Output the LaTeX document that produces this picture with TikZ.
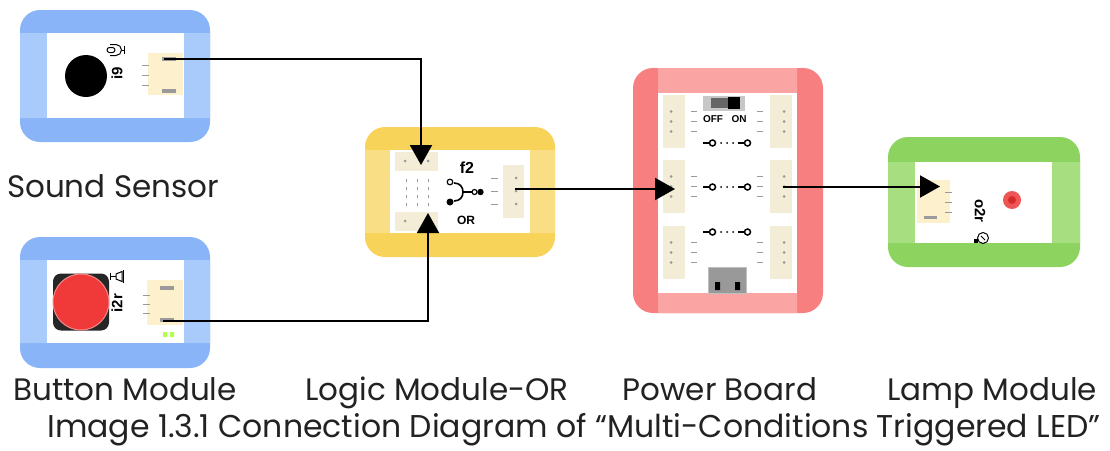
\documentclass[tikz,border=0pt]{standalone}
\usepackage{fontspec}
\setmainfont{Poppins}
\newfontfamily\tagfont{Liberation Sans}
\usepackage{xcolor}
\usepackage{tikz}
\usetikzlibrary{arrows.meta}

\definecolor{bluedark}{HTML}{8AB4F8}
\definecolor{bluelight}{HTML}{A9CBFB}
\definecolor{yellowdark}{HTML}{F8D35A}
\definecolor{yellowlight}{HTML}{FADE86}
\definecolor{reddark}{HTML}{F77F7F}
\definecolor{redlight}{HTML}{FBA4A4}
\definecolor{greendark}{HTML}{8DD35F}
\definecolor{greenlight}{HTML}{A6DE80}
\definecolor{cream}{HTML}{FCF0CD}
\definecolor{sockcream}{HTML}{F3ECD6}
\definecolor{pingray}{HTML}{9A9A9A}
\definecolor{buttonred}{HTML}{F03A3A}
\definecolor{ledred}{HTML}{EE5555}
\definecolor{textgray}{HTML}{222222}

\tikzstyle{board} = [rectangle, rounded corners=20pt, inner sep=0pt]
\tikzstyle{face} = [rectangle, fill=white, inner sep=0pt]
\tikzstyle{port} = [rectangle, fill=cream, inner sep=0pt]
\tikzstyle{sockbox} = [rectangle, fill=sockcream, inner sep=0pt]
\tikzstyle{lead} = [pingray, line width=1pt]
\tikzstyle{icon} = [black, line width=1.2pt]
\tikzstyle{tag} = [inner sep=0pt, font=\tagfont\bfseries\fontsize{15}{15}\selectfont]
\tikzstyle{small tag} = [inner sep=0pt, font=\tagfont\bfseries\fontsize{10}{10}\selectfont]
\tikzstyle{title} = [inner sep=0pt, anchor=base, text=textgray, font=\fontsize{31}{36}\selectfont]
\tikzstyle{wire} = [line width=2pt, -{Triangle[length=20pt, width=22pt]}]

\begin{document}
\begin{tikzpicture}[x=1pt, y=-1pt]
    \useasboundingbox (0,0) rectangle (1110,450);

    % sound sensor
    \node (snd) [board, fill=bluedark, minimum width=190pt, minimum height=132pt] at (115,76) {};
    \fill[bluelight] (20,33) rectangle (47,118) (184,33) rectangle (210,118);
    \node (snd-face) [face, minimum width=137pt, minimum height=85pt] at (115.5,75.5) {};
    \fill (86,76) circle (21pt);
    \node (snd-tag) [tag, rotate=90] at (117,73) {i9};
    \draw[icon, line width=1pt, rounded corners=2.5pt] (107,47.5) rectangle (115,52.5);
    \draw[icon, line width=1pt] (110,44.5) -- (116,44.5) arc (90:-90:5.5pt) -- (110,55.5);
    \draw[icon, line width=1pt] (121.5,50) -- (124,50) (124,46) -- (124,54);
    \node (snd-port) [port, minimum width=35pt, minimum height=42pt] at (165,74) {};
    \foreach \y in {65,75,85} \draw[lead] (142,\y) -- (149,\y);
    \fill[pingray] (162,57) rectangle (176,61);
    \fill[pingray] (162,89) rectangle (176,93);
    \coordinate (snd-pin) at (164,59);

    % button module
    \node (btn) [board, fill=bluedark, minimum width=190pt, minimum height=131pt] at (115,302.5) {};
    \fill[bluelight] (20,260) rectangle (47,343) (184,260) rectangle (210,343);
    \node (btn-face) [face, minimum width=137pt, minimum height=83pt] at (115.5,301.5) {};
    \node (btn-cap) [rectangle, fill=black!85, rounded corners=8pt, minimum width=56pt, minimum height=57pt, inner sep=0pt] at (81,302) {};
    \fill[buttonred, draw=buttonred!60!white, line width=1pt] (81,302) circle (28pt);
    \node (btn-tag) [tag, rotate=90] at (117,303) {i2r};
    \draw[icon, line width=1pt] (110,273) -- (110,280) (110,276.5) -- (116,276.5);
    \draw[icon, line width=1pt] (116,274) -- (122,271.5) -- (122,281.5) -- (116,279) -- cycle;
    \draw[icon, line width=1pt] (123.5,270) -- (123.5,283);
    \node (btn-port) [port, minimum width=36pt, minimum height=45pt] at (165,302.5) {};
    \foreach \y in {295,304,313} \draw[lead] (143,\y) -- (150,\y);
    \fill[pingray] (160,286) rectangle (174,290);
    \fill[pingray] (160,318) rectangle (174,322);
    \fill[green!45!yellow!70] (163,332) rectangle (167,337) (170,332) rectangle (174,337);
    \coordinate (btn-pin) at (163,321);

    % logic module OR
    \node (or) [board, fill=yellowdark, minimum width=190pt, minimum height=130pt] at (460,192) {};
    \fill[yellowlight] (365,150) rectangle (390,233) (530,150) rectangle (555,233);
    \node (or-face) [face, minimum width=140pt, minimum height=83pt] at (460,191.5) {};
    \node (or-top) [sockbox, minimum width=43pt, minimum height=19pt] at (416,161) {};
    \node (or-bot) [sockbox, minimum width=43pt, minimum height=19pt] at (416,221) {};
    \node (or-out) [sockbox, minimum width=21pt, minimum height=53pt] at (513,191) {};
    \foreach \x in {405,428} {
        \fill[pingray] (\x,161) circle (1.5pt);
        \fill[pingray] (\x,221) circle (1.5pt);
    }
    \foreach \x in {406,417,428}
        \foreach \y in {179,187,195,203}
            \draw[lead, line width=0.8pt] (\x,\y) -- (\x,\y+3);
    \foreach \y in {178,191,204} {
        \fill[pingray] (516,\y) circle (1.5pt);
        \draw[lead] (491,\y) -- (498,\y);
    }
    \draw[icon, fill=white] (450,182) circle (2.8pt);
    \fill (450,202) circle (3.5pt);
    \draw[icon, line width=1.6pt] (454,183) .. controls (460,183) and (463,187) .. (463,192) .. controls (463,197) and (460,201) .. (454,201);
    \draw[icon, line width=1.6pt] (463,192) -- (472,192);
    \draw[icon, fill=white] (474.5,192) circle (2.5pt);
    \fill (480.5,192) circle (3.2pt);
    \node (or-tag) [tag, font=\tagfont\bfseries\fontsize{16}{16}\selectfont] at (467,168) {f2};
    \node (or-type) [small tag, font=\tagfont\bfseries\fontsize{12}{12}\selectfont] at (466,220) {OR};
    \coordinate (or-in-a) at (421,165);
    \coordinate (or-in-b) at (428,213);
    \coordinate (or-pin) at (515,189);

    % power board
    \node (pb) [board, fill=reddark, minimum width=190pt, minimum height=245pt] at (728,190.5) {};
    \fill[redlight] (658,68) rectangle (797,93) (658,293) rectangle (797,313);
    \node (pb-face) [face, minimum width=139pt, minimum height=200pt] at (727.5,193) {};
    \node (pb-switch) [rectangle, fill=black!22, minimum width=42pt, minimum height=15pt, inner sep=0pt] at (724,103) {};
    \fill[black!60] (711,98) rectangle (728,108);
    \fill[black] (728,97) rectangle (740,109);
    \node (pb-off) [small tag] at (713,119) {OFF};
    \node (pb-on) [small tag] at (739,119) {ON};
    \foreach \y [count=\i] in {121.5,186.5,252.5} {
        \node (pb-l\i) [sockbox, minimum width=22pt, minimum height=53pt] at (674,\y) {};
        \node (pb-r\i) [sockbox, minimum width=22pt, minimum height=53pt] at (781,\y) {};
        \foreach \d in {-10,0,10} {
            \fill[pingray] (671,\y+\d) circle (1.5pt);
            \fill[pingray] (784,\y+\d) circle (1.5pt);
            \draw[lead] (691,\y+\d) -- (697,\y+\d);
            \draw[lead] (757,\y+\d) -- (763,\y+\d);
        }
    }
    \foreach \y in {143,187,232} {
        \draw[icon, line width=1.8pt] (703,\y) -- (710,\y);
        \draw[icon, line width=1.5pt] (712.5,\y) circle (3pt);
        \foreach \x in {721,727,733} \fill (\x,\y) circle (1pt);
        \draw[icon, line width=1.8pt] (738,\y) -- (745,\y);
        \draw[icon, line width=1.5pt] (747.5,\y) circle (3pt);
    }
    \node (pb-usb) [rectangle, fill=black!40, draw=black!25, minimum width=38pt, minimum height=26pt, inner sep=0pt] at (727,280) {};
    \fill[black] (715,282) rectangle (720,290) (735,282) rectangle (740,290);
    \coordinate (pb-in) at (675,189);
    \coordinate (pb-pin) at (783,186.5);

    % lamp module
    \node (lamp) [board, fill=greendark, minimum width=192pt, minimum height=130pt] at (984,202) {};
    \fill[greenlight] (888,162) rectangle (915,243) (1052,162) rectangle (1080,243);
    \node (lamp-face) [face, minimum width=137pt, minimum height=81pt] at (983.5,202.5) {};
    \node (lamp-port) [port, minimum width=33pt, minimum height=43pt] at (933,201.5) {};
    \foreach \y in {192,202,212} \draw[lead] (945,\y) -- (952,\y);
    \fill[pingray] (924,216) rectangle (937,219);
    \node (lamp-tag) [tag, rotate=-90] at (980,211) {o2r};
    \draw[icon, line width=1pt] (983,238) circle (5.5pt);
    \draw[icon, line width=0.8pt] (981,236) -- (985,240);
    \fill (974,239) rectangle (978,243);
    \fill[ledred] (1012,200) circle (9pt);
    \fill[red!75!black, opacity=0.5] (1012,200) circle (4pt);
    \coordinate (lamp-in) at (940,186.5);

    \draw [wire] (snd-pin) -| (or-in-a);
    \draw [wire] (btn-pin) -| (or-in-b);
    \draw [wire] (or-pin) -- (pb-in);
    \draw [wire] (pb-pin) -- (lamp-in);

    \node (snd-title) [title] at (113,197) {Sound Sensor};
    \node (btn-title) [title] at (125,400) {Button Module};
    \node (or-title) [title] at (437,400) {Logic Module-OR};
    \node (pb-title) [title] at (720,400) {Power Board};
    \node (lamp-title) [title] at (992,400) {Lamp Module};
    \node (caption) [title, font=\fontsize{31.5}{36}\selectfont] at (574,437) {Image 1.3.1 Connection Diagram of “Multi-Conditions Triggered LED”};
\end{tikzpicture}
\end{document}
